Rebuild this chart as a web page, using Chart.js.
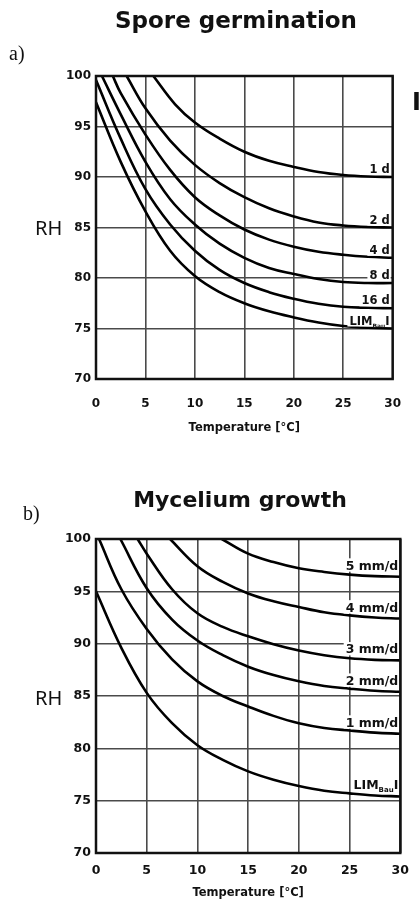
<!DOCTYPE html>
<html><head><meta charset="utf-8">
<script src="https://cdn.jsdelivr.net/npm/chart.js@4.4.0/dist/chart.umd.min.js"></script>
<style>
html,body{margin:0;padding:0;background:#fff;width:419px;height:901px;overflow:hidden}
.wrap{position:absolute;left:0;width:419px}
</style></head><body>
<div class="wrap" style="top:0;height:440px"><canvas id="ca"></canvas></div>
<div class="wrap" style="top:440px;height:461px"><canvas id="cb"></canvas></div>
<script>
// ---- axis ticks ----
const tempTicks = [0, 5, 10, 15, 20, 25, 30];
const rhTicks = [70, 75, 80, 85, 90, 95, 100];

// ---- a) Spore germination ----
const sporeLabels = ['1 d', '2 d', '4 d', '8 d', '16 d', 'LIM|Bau|I'];
const spore1dT  = [5.8, 8, 10, 12.5, 15, 17.5, 20, 22.5, 25, 27.5, 30];
const spore1dRH = [100, 97.2, 95.4, 93.8, 92.5, 91.6, 91.0, 90.5, 90.2, 90.05, 90.0];
const spore2dT  = [3.1, 5, 7.5, 10, 12.5, 15, 17.5, 20, 22.5, 25, 27.5, 30];
const spore2dRH = [100, 96.8, 93.6, 91.2, 89.4, 88.0, 86.9, 86.1, 85.5, 85.2, 85.05, 85.0];
const spore4dT  = [1.7, 2.5, 5, 7.5, 10, 12.5, 15, 17.5, 20, 22.5, 25, 27.5, 30];
const spore4dRH = [100, 98.3, 94.2, 90.7, 88.0, 86.2, 84.8, 83.8, 83.1, 82.6, 82.3, 82.1, 82.0];
const spore8dT  = [0.6, 2.5, 5, 7.5, 10, 12.5, 15, 17.5, 20, 22.5, 25, 27.5, 30];
const spore8dRH = [100, 96.2, 91.5, 87.8, 85.3, 83.4, 82.0, 81.0, 80.4, 79.9, 79.6, 79.5, 79.5];
const spore16dT  = [0, 2.5, 5, 7.5, 10, 12.5, 15, 17.5, 20, 22.5, 25, 27.5, 30];
const spore16dRH = [99.6, 93.8, 88.8, 85.3, 82.7, 80.8, 79.5, 78.6, 77.95, 77.45, 77.15, 77.05, 77.0];
const sporeLimT  = [0, 2.5, 5, 7.5, 10, 12.5, 15, 17.5, 20, 22.5, 25, 27.5, 30];
const sporeLimRH = [97.4, 91.5, 86.6, 82.7, 80.2, 78.6, 77.5, 76.7, 76.1, 75.6, 75.25, 75.07, 75.0];

// ---- b) Mycelium growth ----
const mycLabels = ['5 mm/d', '4 mm/d', '3 mm/d', '2 mm/d', '1 mm/d', 'LIM|Bau|I'];
const myc5T  = [12.4, 15, 17.5, 20, 22.5, 25, 27.5, 30];
const myc5RH = [100, 98.6, 97.8, 97.2, 96.85, 96.6, 96.45, 96.4];
const myc4T  = [7.3, 10, 12.5, 15, 17.5, 20, 22.5, 25, 27.5, 30];
const myc4RH = [100, 97.4, 95.9, 94.8, 94.05, 93.5, 93.0, 92.7, 92.5, 92.4];
const myc3T  = [4.1, 5, 7.5, 10, 12.5, 15, 17.5, 20, 22.5, 25, 27.5, 30];
const myc3RH = [100, 98.6, 95.2, 92.9, 91.6, 90.7, 89.95, 89.35, 88.9, 88.6, 88.45, 88.4];
const myc2T  = [2.4, 5, 7.5, 10, 12.5, 15, 17.5, 20, 22.5, 25, 27.5, 30];
const myc2RH = [100, 95.3, 92.3, 90.3, 88.9, 87.8, 87.0, 86.4, 85.95, 85.7, 85.5, 85.4];
const myc1T  = [0.3, 2.5, 5, 7.5, 10, 12.5, 15, 17.5, 20, 22.5, 25, 27.5, 30];
const myc1RH = [100, 95.2, 91.4, 88.5, 86.4, 85.0, 84.0, 83.1, 82.4, 81.95, 81.7, 81.5, 81.4];
const mycLimT  = [0, 2.5, 5, 7.5, 10, 12.5, 15, 17.5, 20, 22.5, 25, 27.5, 30];
const mycLimRH = [95.0, 89.6, 85.3, 82.4, 80.3, 78.9, 77.8, 77.0, 76.4, 75.95, 75.7, 75.5, 75.4];

const FONT = "'DejaVu Sans', sans-serif";

function toPts(T, RH) { return T.map((t, i) => ({ x: t, y: RH[i] })); }
function mkSet(label, T, RH) {
  return { label, data: toPts(T, RH), borderColor: '#000', borderWidth: 2.6,
    pointRadius: 0, fill: false, tension: 0.4, cubicInterpolationMode: 'default' };
}

function drawLabel(ctx, txt, right, baseline, size) {
  const parts = txt.split('|');
  const big = 'bold ' + size + 'px ' + FONT;
  const small = 'bold ' + Math.round(size * 0.55) + 'px ' + FONT;
  const segs = parts.length === 3 ?
    [[parts[0], big, 0], [parts[1], small, 3], [parts[2], big, 0]] : [[parts[0], big, 0]];
  let total = 0;
  segs.forEach(s => { ctx.font = s[1]; s.push(ctx.measureText(s[0]).width); total += s[3]; });
  const capH = size * 0.75;
  ctx.fillStyle = '#fff';
  ctx.fillRect(right - total - 2, baseline - capH - 2, total + 3, capH + 4);
  ctx.fillStyle = '#111';
  ctx.textBaseline = 'alphabetic';
  ctx.textAlign = 'left';
  let x = right - total;
  segs.forEach(s => { ctx.font = s[1]; ctx.fillText(s[0], x, baseline + s[2]); x += s[3]; });
}

const deco = {
  id: 'deco',
  beforeDraw(chart) {
    const c = chart.ctx; c.save(); c.fillStyle = '#fff'; c.fillRect(0, 0, chart.width, chart.height); c.restore();
  },
  afterDatasetsDraw(chart, args, o) {
    const ctx = chart.ctx, a = chart.chartArea;
    ctx.save();
    chart.data.datasets.forEach((ds, i) => {
      const meta = chart.getDatasetMeta(i);
      const last = meta.data[meta.data.length - 1];
      drawLabel(ctx, ds.label, a.right - o.labelRight, last.y - o.labelGap, o.labelSize);
    });
    ctx.strokeStyle = '#111'; ctx.lineWidth = 2.5;
    ctx.strokeRect(a.left, a.top, a.right - a.left, a.bottom - a.top);
    ctx.fillStyle = '#111';
    ctx.textAlign = 'center'; ctx.textBaseline = 'alphabetic';
    ctx.font = 'bold ' + o.titleSize + 'px ' + FONT;
    ctx.fillText(o.title, o.titleX, o.titleY);
    ctx.textAlign = 'left';
    ctx.font = "20px 'Liberation Serif', serif";
    ctx.fillText(o.panel, o.panelX, o.panelY);
    ctx.font = "20px 'Noto Sans', sans-serif";
    ctx.fillText('RH', 35, o.rhY);
    if (o.extra) {
      ctx.font = 'bold 24px ' + FONT;
      ctx.fillText(o.extra, 412, o.extraY);
    }
    ctx.restore();
  }
};

function makeChart(id, sets, o) {
  return new Chart(document.getElementById(id), {
    type: 'line',
    data: { datasets: sets },
    plugins: [deco],
    options: {
      responsive: true, maintainAspectRatio: false, animation: false,
      layout: { padding: { top: o.padTop, right: o.padRight, left: 0, bottom: 0 } },
      plugins: { legend: { display: false }, tooltip: { enabled: false }, title: { display: false },
        deco: o.deco },
      scales: {
        x: {
          type: 'linear', min: 0, max: 30,
          afterBuildTicks: s => { s.ticks = tempTicks.map(v => ({ value: v })); },
          afterFit: s => { s.height = o.xHeight; },
          grid: { color: '#4a4a4a', lineWidth: 1.6, drawTicks: false },
          border: { display: false },
          ticks: { padding: o.xPad, color: '#111', font: { family: FONT, weight: 'bold', size: o.tickSize }, maxRotation: 0 },
          title: { display: true, text: 'Temperature [°C]', color: '#111',
            font: { family: FONT, weight: 'bold', size: 11.5 }, padding: { top: 0, bottom: o.xTitlePad } }
        },
        y: {
          type: 'linear', min: 70, max: 100,
          afterBuildTicks: s => { s.ticks = rhTicks.map(v => ({ value: v })); },
          afterFit: s => { s.width = 96; },
          grid: { color: '#4a4a4a', lineWidth: 1.6, drawTicks: false },
          border: { display: false },
          ticks: { padding: 5, color: '#111', font: { family: FONT, weight: 'bold', size: o.tickSize } }
        }
      }
    }
  });
}

const sporeSets = [
  mkSet(sporeLabels[0], spore1dT, spore1dRH),
  mkSet(sporeLabels[1], spore2dT, spore2dRH),
  mkSet(sporeLabels[2], spore4dT, spore4dRH),
  mkSet(sporeLabels[3], spore8dT, spore8dRH),
  mkSet(sporeLabels[4], spore16dT, spore16dRH),
  mkSet(sporeLabels[5], sporeLimT, sporeLimRH)
];
const mycSets = [
  mkSet(mycLabels[0], myc5T, myc5RH),
  mkSet(mycLabels[1], myc4T, myc4RH),
  mkSet(mycLabels[2], myc3T, myc3RH),
  mkSet(mycLabels[3], myc2T, myc2RH),
  mkSet(mycLabels[4], myc1T, myc1RH),
  mkSet(mycLabels[5], mycLimT, mycLimRH)
];

makeChart('ca', sporeSets, {
  padTop: 76, padRight: 19, xHeight: 61, xPad: 18, xTitlePad: 5, tickSize: 12,
  deco: { title: 'Spore germination', titleX: 236, titleY: 28, titleSize: 23,
    panel: 'a)', panelX: 9, panelY: 60, rhY: 235, extra: 'I', extraY: 110,
    labelRight: 3, labelGap: 4, labelSize: 11.5 }
});
makeChart('cb', mycSets, {
  padTop: 99, padRight: 11, xHeight: 48, xPad: 10, xTitlePad: 1, tickSize: 12.5,
  deco: { title: 'Mycelium growth', titleX: 240, titleY: 67, titleSize: 22,
    panel: 'b)', panelX: 23, panelY: 80, rhY: 265,
    labelRight: 2, labelGap: 7, labelSize: 12.5 }
});
</script>
</body></html>
